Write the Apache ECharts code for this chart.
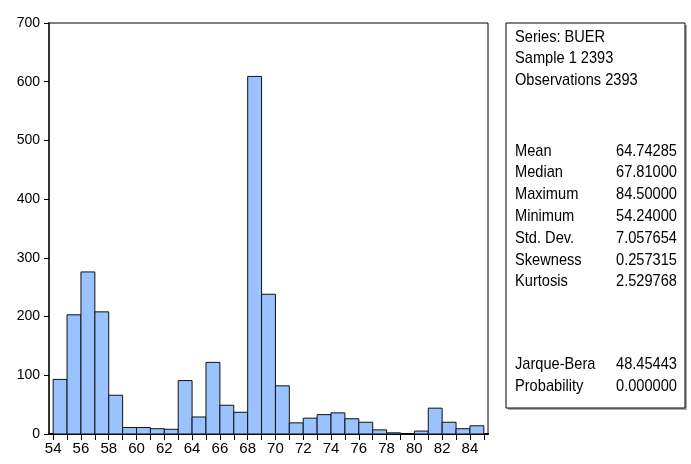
<!DOCTYPE html>
<html>
<head>
    <meta charset="UTF-8">
    <title>Histogram BUER</title>
</head>
<body style="margin:0">
    <div id="main" style="width: 691px;height:464px;"></div>
    <script src="https://cdn.jsdelivr.net/npm/echarts@6/dist/echarts.min.js"></script>
    <script type="text/javascript">
        // bins of width 1, starting at 54
        var binStarts = [54, 55, 56, 57, 58, 59, 60, 61, 62, 63, 64, 65, 66, 67, 68, 69,
                         70, 71, 72, 73, 74, 75, 76, 77, 78, 79, 80, 81, 82, 83, 84];
        var counts = [93, 203, 276, 208, 66, 11, 11, 9, 8, 91, 29, 122, 49, 37, 609, 238,
                      82, 19, 27, 33, 36, 26, 20, 7, 2, 0, 5, 44, 20, 9, 14];
        var xTicks = [54, 55, 56, 57, 58, 59, 60, 61, 62, 63, 64, 65, 66, 67, 68, 69, 70,
                      71, 72, 73, 74, 75, 76, 77, 78, 79, 80, 81, 82, 83, 84, 85];
        var xLabels = [54, 56, 58, 60, 62, 64, 66, 68, 70, 72, 74, 76, 78, 80, 82, 84];

        var headerLines = ['Series: BUER', 'Sample 1 2393', 'Observations 2393'];
        var statNames = ['Mean', 'Median', 'Maximum', 'Minimum', 'Std. Dev.', 'Skewness', 'Kurtosis'];
        var statValues = ['64.74285', '67.81000', '84.50000', '54.24000', '7.057654', '0.257315', '2.529768'];
        var jbNames = ['Jarque-Bera', 'Probability'];
        var jbValues = ['48.45443', '0.000000'];

        var font = '"Liberation Sans", Arial, sans-serif';

        var myChart = echarts.init(document.getElementById('main'));

        var data = [];
        for (var i = 0; i < binStarts.length; i++) {
            data.push([binStarts[i], binStarts[i] + 1, counts[i]]);
        }

        // stats box
        var graphics = [{
            type: 'rect',
            shape: {x: 508, y: 25, width: 179, height: 385},
            style: {fill: '#aaa'},
            silent: true
        }, {
            type: 'rect',
            shape: {x: 506, y: 23, width: 179, height: 385},
            style: {fill: '#fff', stroke: '#000', lineWidth: 1},
            silent: true
        }];
        // narrow-looking text: squeeze horizontally around the anchor
        function addText(txt, x, y, align) {
            graphics.push({
                type: 'text', x: x, y: y, scaleX: 0.86,
                style: {text: txt, font: '17px ' + font, fill: '#000',
                        textAlign: align, textVerticalAlign: 'middle'}
            });
        }
        var headerY = [37, 58, 80];
        headerLines.forEach(function (t, k) { addText(t, 515, headerY[k], 'left'); });
        for (var k = 0; k < statNames.length; k++) {
            addText(statNames[k], 515, 151 + k * 21.8, 'left');
            addText(statValues[k], 677, 151 + k * 21.8, 'right');
        }
        for (var j = 0; j < jbNames.length; j++) {
            addText(jbNames[j], 515, 364 + j * 22.5, 'left');
            addText(jbValues[j], 677, 364 + j * 22.5, 'right');
        }

        var option = {
            animation: false,
            backgroundColor: '#fff',
            grid: {
                left: 49, right: 203, top: 23, bottom: 30,
                show: true, borderColor: '#000', borderWidth: 1, backgroundColor: 'transparent'
            },
            xAxis: [{
                type: 'value',
                min: 53.7, max: 85.3,
                axisLine: {onZero: false, lineStyle: {color: '#000', width: 1.5}},
                axisTick: {show: true, length: 6, customValues: xTicks, lineStyle: {color: '#000'}},
                axisLabel: {customValues: xLabels, color: '#000', fontSize: 15, fontFamily: font, margin: 7},
                splitLine: {show: false}
            }, {
                type: 'value', position: 'top',
                min: 53.7, max: 85.3,
                axisLine: {show: true, lineStyle: {color: '#000', width: 2}},
                axisTick: {show: false}, axisLabel: {show: false}, splitLine: {show: false}
            }],
            yAxis: {
                type: 'value',
                min: 0, max: 700, interval: 100,
                axisLine: {show: true, lineStyle: {color: '#333', width: 2}},
                axisTick: {show: true, length: 5, lineStyle: {color: '#000'}},
                axisLabel: {color: '#000', fontSize: 14, fontFamily: font, margin: 9},
                splitLine: {show: false}
            },
            graphic: graphics,
            series: [{
                type: 'custom',
                xAxisIndex: 0,
                renderItem: function (params, api) {
                    var p0 = api.coord([api.value(0), 0]);
                    var p1 = api.coord([api.value(1), api.value(2)]);
                    return {
                        type: 'rect',
                        shape: {x: p0[0], y: p1[1], width: p1[0] - p0[0], height: p0[1] - p1[1]},
                        style: {fill: '#99c2ff', stroke: '#111', lineWidth: 1}
                    };
                },
                encode: {x: [0, 1], y: 2},
                data: data
            }]
        };

        myChart.setOption(option);
    </script>
</body>
</html>
